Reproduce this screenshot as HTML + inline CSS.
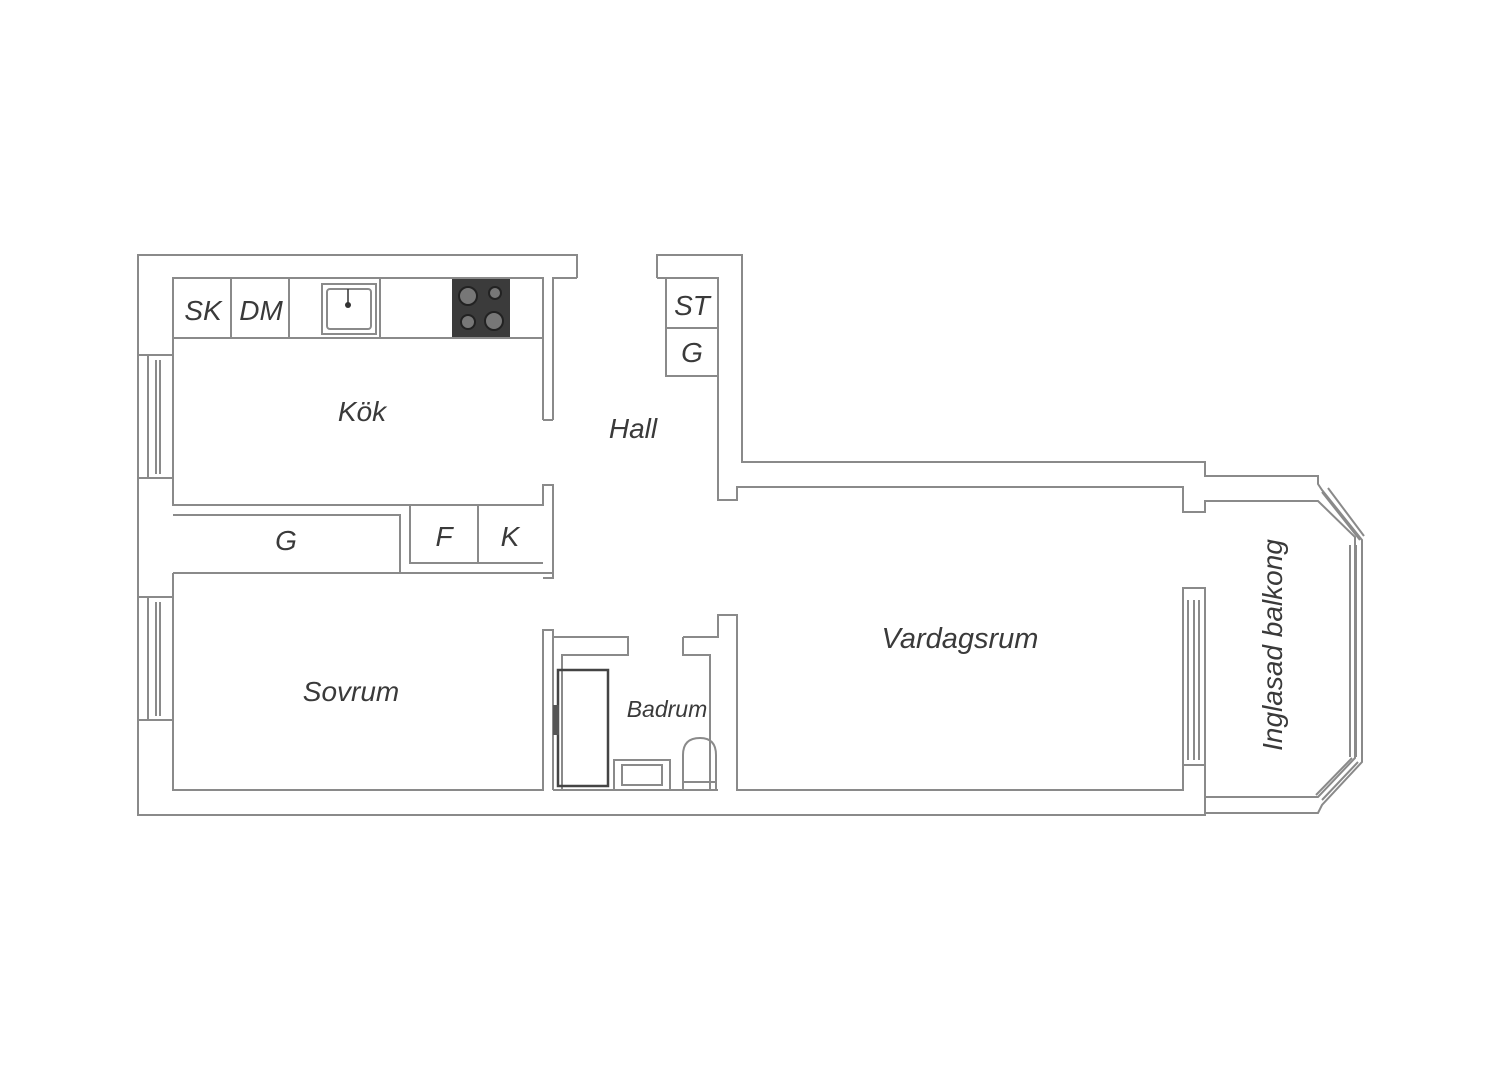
<!DOCTYPE html>
<html><head><meta charset="utf-8"><style>
html,body{margin:0;padding:0;background:#fff;width:1500px;height:1066px;overflow:hidden}
text{font-family:"Liberation Sans",sans-serif;font-style:italic;fill:#3a3a3a}
</style></head><body>
<svg width="1500" height="1066" viewBox="0 0 1500 1066" xmlns="http://www.w3.org/2000/svg">
<g fill="none" stroke="#8a8a8a" stroke-width="2">
<!-- outer perimeter -->
<path d="M577,278 V255 H138 V815 H1205 V813 H1318 L1322,805 L1362,762 V540 L1322,490 L1318,484 V476 H1205 V462 H742 V255 H657 V278"/>
<!-- kitchen -->
<path d="M543,420 V278 H173 V505 H543 V485 H553 V578 H543"/>
<path d="M553,420 V278 H577"/>
<path d="M543,420 H553"/>
<!-- counter -->
<path d="M173,338 H543 M231,278 V338 M289,278 V338 M380,278 V338"/>
<rect x="322" y="284" width="54" height="50"/>
<rect x="327" y="289" width="44" height="40" rx="3"/>
<!-- closets -->
<path d="M173,573 H400 V515 H173 M410,505 V563 H543 M478,505 V563 M400,573 H553"/>
<!-- hall ST/G -->
<path d="M657,278 H718 V500 H737 V487 H1183 V512 H1205 V501 H1318 L1355,537 V758 L1318,797 H1205"/>
<path d="M666,278 V376 H718 M666,328 H718"/>
<!-- sovrum -->
<path d="M173,573 V790 H543 V630 H553 V790"/>
<!-- bath -->
<path d="M553,790 H718 M553,630 V637 H628 V655 H562 V790 M683,637 H718 V615 H737 V790 H1183 V765 H1205 V790 M683,637 V655 H710 V790"/>
<path d="M1183,765 V588 H1205 V812"/>
<!-- left windows -->
<path d="M138,355 H173 M138,478 H173 M148,355 V478 M156,360 V474 M160,360 V474"/>
<path d="M138,597 H173 M138,720 H173 M148,597 V720 M156,602 V716 M160,602 V716"/>
<!-- living window -->
<path d="M1188,600 V760 M1194,600 V760 M1199,600 V760"/>
<!-- balcony windows -->
<path d="M1322,492 L1360,540 M1328,488 L1364,536 M1350,545 V757 M1356,545 V757 M1322,800 L1358,762 M1316,795 L1352,758"/>
<!-- shower -->
<rect x="558" y="670" width="50" height="116" stroke="#444" stroke-width="2.5"/>
<path d="M614,790 V760 H670 V790 M622,765 H662 V785 H622 Z"/>
<path d="M683,790 V755 Q683,738 700,738 Q716,738 716,755 V790 M683,782 H716"/>
</g>
<rect x="452" y="279" width="58" height="58" fill="#3b3b3b"/>
<circle cx="468" cy="296" r="9" fill="#777" stroke="#222" stroke-width="2"/>
<circle cx="495" cy="293" r="6" fill="#777" stroke="#222" stroke-width="2"/>
<circle cx="468" cy="322" r="7" fill="#777" stroke="#222" stroke-width="2"/>
<circle cx="494" cy="321" r="9" fill="#777" stroke="#222" stroke-width="2"/>
<circle cx="348" cy="305" r="3" fill="#333"/>
<line x1="348" y1="289" x2="348" y2="305" stroke="#333" stroke-width="1.5"/>
<rect x="553" y="705" width="6" height="30" fill="#555"/>
<text x="203" y="320" font-size="28" text-anchor="middle">SK</text>
<text x="261" y="320" font-size="28" text-anchor="middle">DM</text>
<text x="692" y="315" font-size="28" text-anchor="middle">ST</text>
<text x="692" y="362" font-size="28" text-anchor="middle">G</text>
<text x="362" y="421" font-size="28" text-anchor="middle">Kök</text>
<text x="633" y="438" font-size="28" text-anchor="middle">Hall</text>
<text x="286" y="550" font-size="28" text-anchor="middle">G</text>
<text x="444" y="546" font-size="28" text-anchor="middle">F</text>
<text x="510" y="546" font-size="28" text-anchor="middle">K</text>
<text x="351" y="701" font-size="28" text-anchor="middle">Sovrum</text>
<text x="667" y="717" font-size="23" text-anchor="middle">Badrum</text>
<text x="960" y="648" font-size="29" text-anchor="middle">Vardagsrum</text>
<text transform="translate(1282,645) rotate(-90)" font-size="28" text-anchor="middle">Inglasad balkong</text>
</svg>
</body></html>
